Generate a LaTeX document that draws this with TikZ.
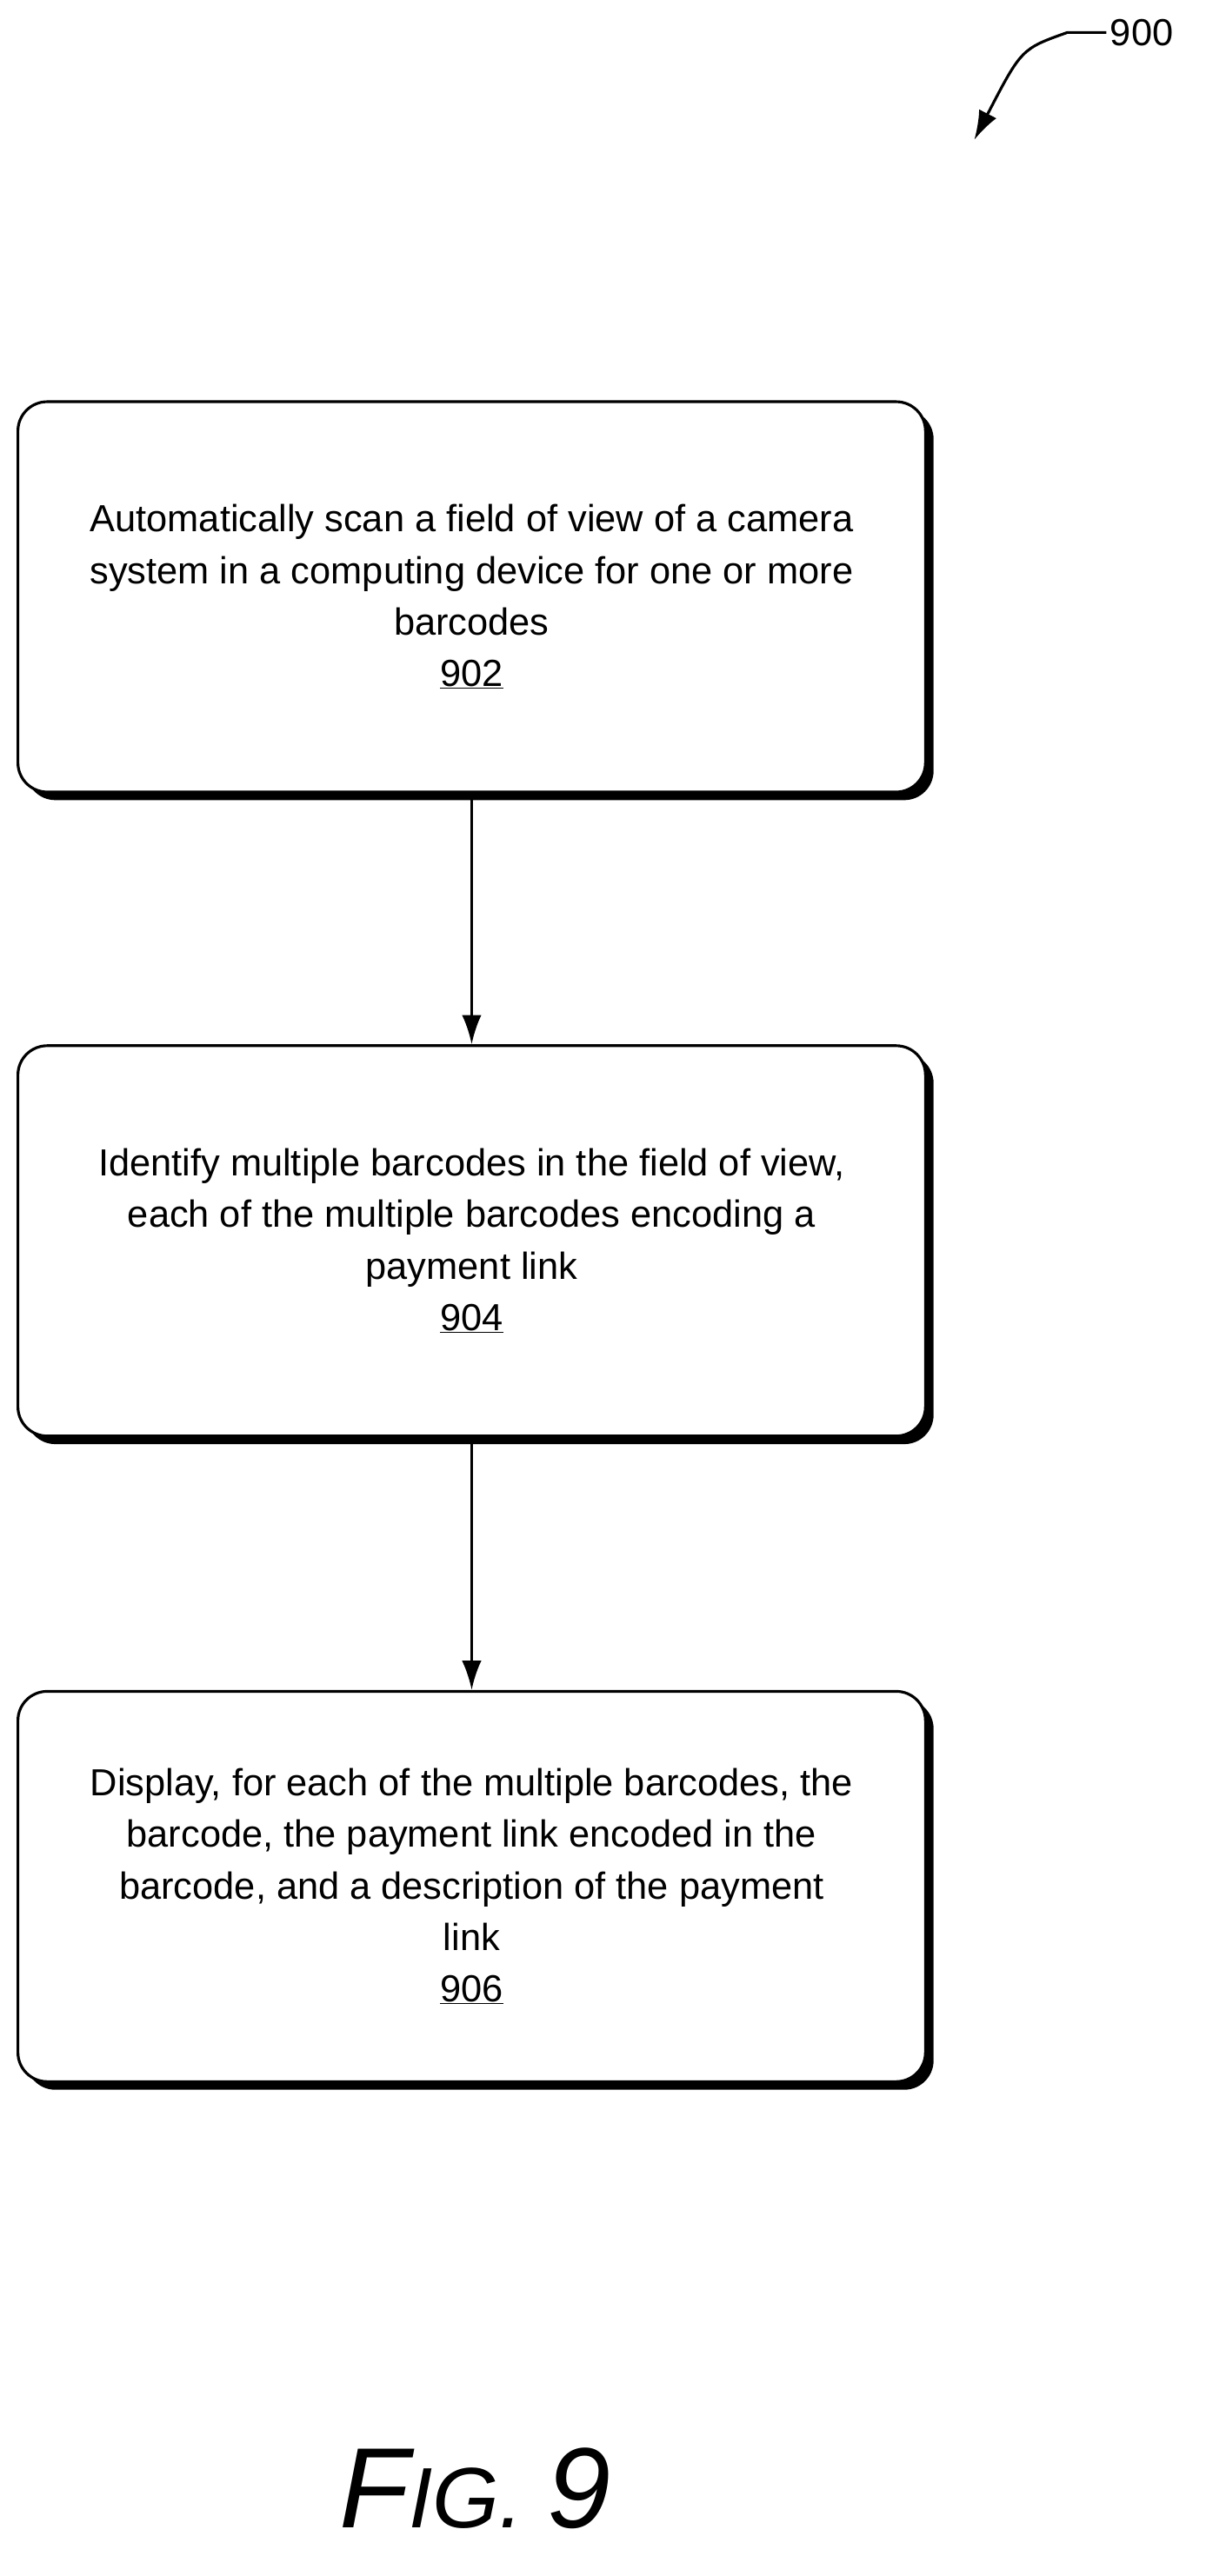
\documentclass[tikz,border=0pt]{standalone}
\usepackage{fontspec}
\setmainfont{Liberation Sans}
\usetikzlibrary{positioning,arrows.meta}
\tikzset{
  flowbox/.style={draw, line width=2.4pt, rounded corners=0.9cm, minimum width=27.9cm, minimum height=12cm,
    align=center, fill=white, font=\fontsize{33}{45}\selectfont},
  boxshade/.style={fill=black, rounded corners=0.9cm, minimum width=27.9cm, minimum height=12cm},
  flow/.style={-{Latex[length=0.9cm,width=0.6cm]}, line width=2.4pt}
}
\begin{document}
\begin{tikzpicture}[x=0.05cm,y=-0.05cm]
  \useasboundingbox (0,0) rectangle (741,1584);

  % label 900
  \node[font=\fontsize{33}{38}\selectfont] (fig) at (702,20) {900};
  \coordinate (tip) at (599,86);
  \draw[flow] (fig.west) -- ++(-1.2cm,0) .. controls (628,30) .. (tip);

  % steps
  \node[boxshade] at (295,372) {};
  \node[flowbox] (s902) at (290,367) {Automatically scan a field of view of a camera\\system in a computing device for one or more\\barcodes\\\underline{902}};
  \node[boxshade] at (295,768) {};
  \node[flowbox] (s904) at (290,763) {Identify multiple barcodes in the field of view,\\each of the multiple barcodes encoding a\\payment link\\\underline{904}};
  \node[boxshade] at (295,1165) {};
  \node[flowbox] (s906) at (290,1160) {Display, for each of the multiple barcodes, the\\barcode, the payment link encoded in the\\barcode, and a description of the payment\\link\\\underline{906}};

  \draw[flow] (s902) -- (s904);
  \draw[flow] (s904) -- (s906);

  \node[font=\itshape] (cap) at (292,1530) {\fontsize{100}{100}\selectfont F\fontsize{75}{75}\selectfont IG. \fontsize{100}{100}\selectfont 9};
\end{tikzpicture}
\end{document}
